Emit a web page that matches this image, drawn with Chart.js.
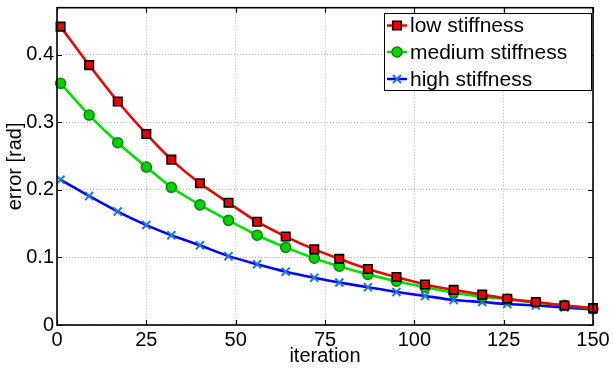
<!DOCTYPE html>
<html>
<head>
<meta charset="utf-8">
<script src="https://cdn.jsdelivr.net/npm/chart.js@4"></script>
<style>
html,body{margin:0;padding:0;background:#fff;}
#wrap{width:613px;height:369px;position:relative;}
</style>
</head>
<body>
<div id="wrap"><canvas id="c" width="613" height="369"></canvas></div>
<script>
const iterations = [1, 9, 17, 25, 32, 40, 48, 56, 64, 72, 79, 87, 95, 103, 111, 119, 126, 134, 142, 150];
const lowStiffness = [0.442, 0.385, 0.331, 0.283, 0.245, 0.210, 0.181, 0.153, 0.131, 0.112, 0.098, 0.083, 0.071, 0.060, 0.052, 0.045, 0.039, 0.034, 0.029, 0.025];
const mediumStiffness = [0.358, 0.311, 0.270, 0.234, 0.204, 0.178, 0.155, 0.133, 0.115, 0.099, 0.087, 0.075, 0.065, 0.056, 0.048, 0.042, 0.038, 0.033, 0.029, 0.024];
const highStiffness = [0.215, 0.191, 0.168, 0.148, 0.133, 0.118, 0.102, 0.090, 0.079, 0.070, 0.063, 0.056, 0.049, 0.043, 0.037, 0.034, 0.031, 0.029, 0.026, 0.023];
const seriesNames = ['low stiffness', 'medium stiffness', 'high stiffness'];
const xTicks = [0, 25, 50, 75, 100, 125, 150];
const yTicks = [0, 0.1, 0.2, 0.3, 0.4];

const FONT = '"Liberation Sans", Arial, Helvetica, sans-serif';

function pts(vals) { return iterations.map((x, i) => ({x: x, y: vals[i]})); }

const styles = [
  {line: '#ee0000', pointStyle: 'rect', radius: 6, bg: '#ee0000', border: '#000000', bw: 1.6},
  {line: '#00e000', pointStyle: 'circle', radius: 5, bg: '#00d400', border: '#008a00', bw: 1.6},
  {line: '#0000ff', pointStyle: 'crossRot', radius: 5.7, bg: '#1f77d0', border: '#1f77d0', bw: 2}
];
const seriesData = [lowStiffness, mediumStiffness, highStiffness];

const datasets = seriesData.map((vals, k) => ({
  label: seriesNames[k],
  data: pts(vals),
  borderColor: styles[k].line,
  borderWidth: 2.6,
  tension: 0.25,
  pointStyle: styles[k].pointStyle,
  pointRadius: styles[k].radius,
  pointBackgroundColor: styles[k].bg,
  pointBorderColor: styles[k].border,
  pointBorderWidth: styles[k].bw,
  clip: false
}));

function drawMarker(ctx, st, x, y) {
  ctx.save();
  Chart.helpers.drawPoint(ctx, {
    pointStyle: st.pointStyle, radius: st.radius, rotation: 0, borderWidth: st.bw
  }, x, y);
  ctx.restore();
}

const boxPlugin = {
  id: 'boxPlugin',
  afterDraw(chart) {
    const ctx = chart.ctx;
    const a = chart.chartArea;
    const xs = chart.scales.x, ys = chart.scales.y;
    ctx.save();
    // inward ticks
    ctx.strokeStyle = '#000';
    ctx.lineWidth = 1.2;
    const tl = 5;
    ctx.beginPath();
    xTicks.forEach(v => {
      const px = Math.round(xs.getPixelForValue(v)) + 0.5;
      ctx.moveTo(px, a.bottom); ctx.lineTo(px, a.bottom - tl);
      ctx.moveTo(px, a.top); ctx.lineTo(px, a.top + tl);
    });
    yTicks.forEach(v => {
      const py = Math.round(ys.getPixelForValue(v)) + 0.5;
      ctx.moveTo(a.left, py); ctx.lineTo(a.left + tl, py);
      ctx.moveTo(a.right, py); ctx.lineTo(a.right - tl, py);
    });
    ctx.stroke();
    // box
    ctx.lineWidth = 1.6;
    ctx.strokeRect(a.left, a.top, a.right - a.left, a.bottom - a.top);

    // legend
    const lx = 384, ly = 13, lw = 207, lh = 77;
    ctx.fillStyle = '#fff';
    ctx.fillRect(lx, ly, lw, lh);
    ctx.lineWidth = 1;
    ctx.strokeStyle = '#000';
    ctx.strokeRect(lx + 0.5, ly + 0.5, lw, lh);
    const rows = [25.5, 52, 79];
    ctx.font = '21px ' + FONT;
    ctx.textBaseline = 'middle';
    ctx.textAlign = 'left';
    seriesNames.forEach((name, k) => {
      const st = styles[k];
      const y = rows[k];
      ctx.strokeStyle = st.line;
      ctx.lineWidth = 2.5;
      ctx.beginPath();
      ctx.moveTo(387, y); ctx.lineTo(407, y);
      ctx.stroke();
      ctx.fillStyle = st.bg;
      ctx.strokeStyle = st.border;
      ctx.lineWidth = st.bw;
      drawMarker(ctx, st, 397, y);
      ctx.fillStyle = '#000';
      ctx.fillText(name, 410, y + 1);
    });
    ctx.restore();
  }
};

new Chart(document.getElementById('c'), {
  type: 'line',
  data: {datasets: datasets},
  options: {
    responsive: false,
    animation: false,
    devicePixelRatio: 1,
    layout: {padding: {top: 7, right: 20, left: 0, bottom: 0}},
    plugins: {legend: {display: false}, tooltip: {enabled: false}},
    scales: {
      x: {
        type: 'linear', min: 0, max: 150,
        afterBuildTicks(s) { s.ticks = xTicks.map(v => ({value: v})); },
        afterFit(s) { s.height = 44; s.paddingLeft = 0; s.paddingRight = 0; },
        ticks: {font: {family: FONT, size: 20}, color: '#000', padding: 3, maxRotation: 0},
        grid: {color: '#b8b8b8', lineWidth: 1, drawTicks: false},
        border: {display: false, dash: [1, 2]},
        title: {display: true, text: 'iteration', font: {family: FONT, size: 20}, color: '#000', padding: {top: 0, bottom: 1}}
      },
      y: {
        type: 'linear', min: 0, max: 0.47,
        afterBuildTicks(s) { s.ticks = yTicks.map(v => ({value: v})); },
        afterFit(s) { s.width = 57; s.paddingTop = 0; s.paddingBottom = 0; },
        ticks: {font: {family: FONT, size: 20}, color: '#000', padding: 3,
          callback: (v) => String(Math.round(v * 10) / 10)},
        grid: {color: '#b8b8b8', lineWidth: 1, drawTicks: false},
        border: {display: false, dash: [1, 2]},
        title: {display: true, text: 'error [rad]', font: {family: FONT, size: 20}, color: '#000', padding: {top: 3, bottom: 0}}
      }
    }
  },
  plugins: [boxPlugin]
});
</script>
</body>
</html>
